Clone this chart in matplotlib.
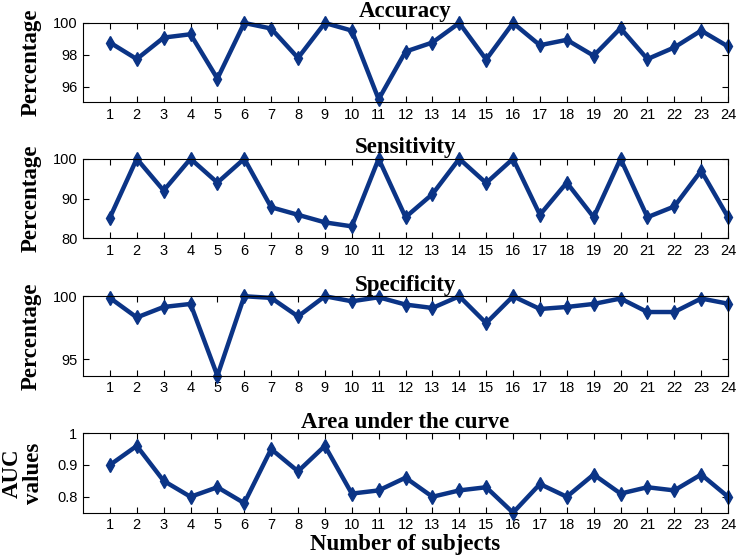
import matplotlib
matplotlib.use("Agg")
import matplotlib.pyplot as plt

# Subject numbers
subjects = list(range(1, 25))

# Values
accuracy = [98.77, 97.73, 99.08, 99.29, 96.5, 100.0, 99.65, 97.8, 100.0, 99.52,
            95.2, 98.2, 98.77, 100.0, 97.7, 100.0, 98.6, 98.94, 97.94, 99.67,
            97.73, 98.46, 99.52, 98.52]
sensitivity = [85.2, 100, 92, 100, 94, 100, 87.8, 85.9, 84, 83,
               100, 85.3, 91.1, 100, 93.9, 100, 85.9, 94, 85.3, 100,
               85.3, 88, 97, 85.3]
specificity = [99.87, 98.32, 99.15, 99.39, 93.7, 100.0, 99.87, 98.4, 100.0, 99.6,
               99.92, 99.34, 99.07, 100.0, 97.87, 100.0, 98.99, 99.15, 99.39, 99.82,
               98.75, 98.75, 99.82, 99.41]
auc = [0.90, 0.96, 0.85, 0.80, 0.83, 0.78, 0.95, 0.88, 0.96, 0.81,
       0.82, 0.86, 0.80, 0.82, 0.83, 0.75, 0.84, 0.80, 0.87, 0.81,
       0.83, 0.82, 0.87, 0.80]

titles = ["Accuracy", "Sensitivity", "Specificity", "Area under the curve"]
ylabels = ["Percentage", "Percentage", "Percentage", "AUC\nvalues"]
ylims = [(95, 100), (80, 100), (93.7, 100), (0.75, 1.0)]
yticks = [[96, 98, 100], [80, 90, 100], [95, 100], [0.8, 0.9, 1.0]]
yticklabels = [["96", "98", "100"], ["80", "90", "100"], ["95", "100"],
               ["0.8", "0.9", "1"]]
series = [accuracy, sensitivity, specificity, auc]

line_color = "#0b3486"
serif = ["Liberation Serif", "DejaVu Serif"]
sans = ["Liberation Sans", "DejaVu Sans"]

fig = plt.figure(figsize=(7.38, 5.6), dpi=100)

# axes boxes in figure fractions: left, bottom, width, height
left = 0.1125
width = 0.874
bottoms = [0.817, 0.5745, 0.329, 0.0845]
height = 0.142

for i in range(4):
    ax = fig.add_axes([left, bottoms[i], width, height])
    ax.plot(subjects, series[i], color=line_color, linewidth=3.2,
            marker="d", markersize=7, clip_on=False)
    ax.set_xlim(0, 24)
    ax.set_ylim(*ylims[i])
    ax.set_xticks(subjects)
    ax.set_yticks(yticks[i])
    ax.set_yticklabels(yticklabels[i])
    ax.tick_params(direction="in", top=True, right=True, length=4,
                   width=0.8, labelsize=10.5, pad=4)
    for lab in ax.get_xticklabels() + ax.get_yticklabels():
        lab.set_family(sans)
    for sp in ax.spines.values():
        sp.set_linewidth(0.8)
    ax.set_title(titles[i], family=serif, fontweight="bold", fontsize=16.5, pad=4)
    ax.set_ylabel(ylabels[i], family=serif, fontweight="bold", fontsize=16.5,
                  linespacing=1.0)
    if i < 3:
        ax.yaxis.set_label_coords(-0.064, 0.5)
    else:
        ax.yaxis.set_label_coords(-0.061, 0.5)
        ax.set_xlabel("Number of subjects", family=serif, fontweight="bold",
                      fontsize=16.5, labelpad=1)

fig.savefig("out.png", dpi=100)
